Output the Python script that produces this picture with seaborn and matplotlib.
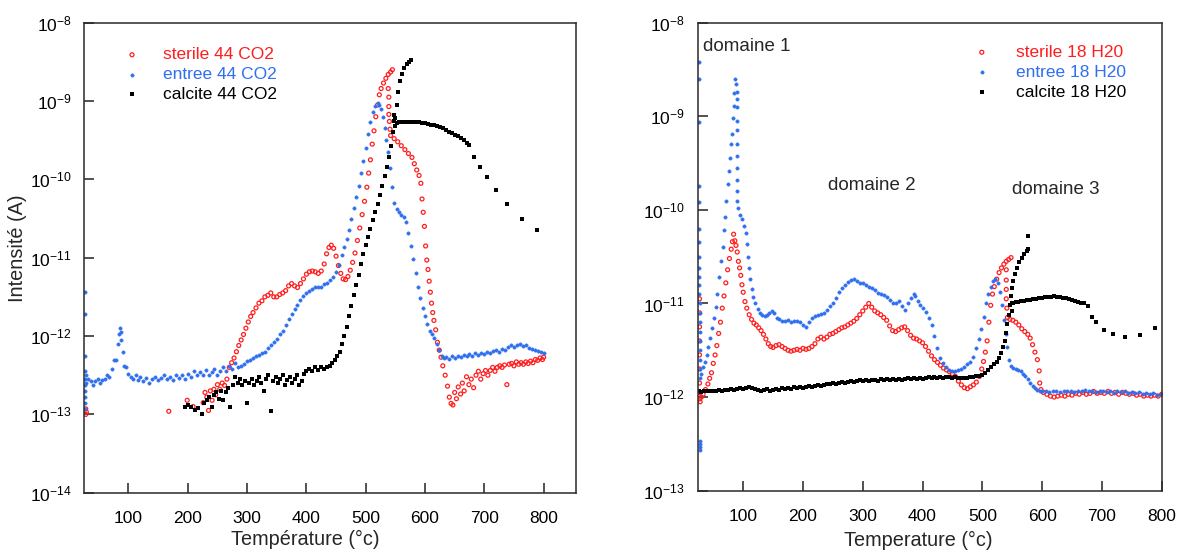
import numpy as np
import pandas as pd
import matplotlib
matplotlib.use('Agg')
import matplotlib.pyplot as plt
import seaborn as sns
from matplotlib.ticker import NullLocator, FixedLocator

sns.set_theme(style='white')
plt.rcParams['font.family'] = ['Liberation Sans', 'DejaVu Sans']
plt.rcParams['mathtext.default'] = 'regular'

RED = '#ff1e1e'
BLUE = '#2f6ff0'
BLACK = '#000000'

# data: (temperature in °C, log10 of intensity in A)
# --- left panel, m/z 44 CO2 ---
sterile_co2 = [
    (28, -12.93), (28, -13.0), (29, -12.97), (168, -12.96), (199, -12.82), (209, -12.9),
    (226, -12.85), (229, -12.72), (232, -12.78), (235, -12.95), (238, -12.7), (241, -12.82),
    (244, -12.68), (247, -12.75), (250, -12.62), (254, -12.68), (258, -12.6), (262, -12.63),
    (266, -12.55), (270, -12.4), (274, -12.34), (278, -12.28), (282, -12.2), (286, -12.12),
    (290, -12.05), (294, -11.98), (298, -11.9), (302, -11.82), (306, -11.75), (310, -11.7),
    (315, -11.64), (320, -11.58), (325, -11.55), (330, -11.5), (335, -11.48), (340, -11.45),
    (345, -11.5), (350, -11.5), (355, -11.47), (360, -11.45), (365, -11.42), (370, -11.36),
    (375, -11.33), (380, -11.36), (385, -11.38), (390, -11.33), (395, -11.27), (400, -11.21),
    (405, -11.18), (410, -11.17), (415, -11.18), (420, -11.2), (425, -11.17), (430, -11.08),
    (434, -10.95), (438, -10.87), (442, -10.84), (446, -10.88), (450, -10.98), (454, -11.1),
    (458, -11.2), (462, -11.27), (466, -11.28), (470, -11.24), (474, -11.16), (478, -11.06),
    (482, -10.94), (486, -10.78), (490, -10.62), (494, -10.45), (498, -10.28), (502, -10.1),
    (505, -9.92), (508, -9.75), (511, -9.55), (514, -9.38), (517, -9.2), (520, -9.05),
    (523, -8.92), (526, -8.84), (530, -8.77), (534, -8.71), (538, -8.66), (542, -8.63),
    (545, -8.6),
    (538, -8.84), (539, -8.95), (539, -9.07), (539, -9.17), (540, -9.26), (541, -9.36),
    (542, -9.44), (548, -9.48), (554, -9.52), (560, -9.57), (566, -9.62), (572, -9.67),
    (578, -9.72), (582, -9.8), (586, -9.88), (590, -9.95), (593, -10.05), (595, -10.25),
    (597, -10.42), (599, -10.6), (601, -10.85), (603, -11.03), (605, -11.15), (607, -11.3),
    (609, -11.44), (611, -11.58), (613, -11.7), (615, -11.8), (618, -11.92), (621, -12.08),
    (624, -12.18), (627, -12.27), (630, -12.38), (634, -12.5), (638, -12.64), (641, -12.78),
    (644, -12.86), (647, -12.88), (650, -12.72), (653, -12.8), (656, -12.65), (660, -12.74),
    (663, -12.6), (666, -12.7), (670, -12.52), (674, -12.62), (678, -12.55), (682, -12.66),
    (686, -12.5), (690, -12.45), (694, -12.55), (698, -12.48), (702, -12.44), (706, -12.5),
    (710, -12.44), (714, -12.4), (718, -12.45), (722, -12.4), (726, -12.38), (730, -12.4),
    (734, -12.37), (738, -12.62), (742, -12.36), (746, -12.35), (750, -12.38), (754, -12.33),
    (758, -12.36), (762, -12.34), (766, -12.36), (770, -12.33), (774, -12.35), (778, -12.32),
    (782, -12.34), (786, -12.3), (790, -12.31), (794, -12.28), (798, -12.3), (800, -12.27),
]

entree_co2 = [
    (27, -11.44), (27, -11.72), (27, -12.25), (27, -12.45), (27, -12.55), (27, -12.62),
    (27, -12.7), (27, -12.78), (27, -12.85), (27, -12.93), (28, -12.5), (29, -12.6),
    (32, -12.55), (36, -12.58), (40, -12.62), (44, -12.58), (48, -12.55), (52, -12.6),
    (56, -12.56), (60, -12.55), (64, -12.5), (68, -12.52), (72, -12.42), (76, -12.3),
    (79, -12.3), (82, -12.1), (84, -11.98), (86, -11.9), (87, -11.95), (88, -12.05),
    (90, -12.2), (93, -12.38), (96, -12.4), (100, -12.48), (104, -12.52), (108, -12.55),
    (112, -12.5), (116, -12.56), (120, -12.52), (125, -12.58), (130, -12.54), (135, -12.6),
    (140, -12.55), (145, -12.52), (150, -12.56), (155, -12.54), (160, -12.5), (165, -12.55),
    (170, -12.52), (175, -12.56), (180, -12.5), (185, -12.53), (190, -12.5), (195, -12.55),
    (200, -12.48), (205, -12.52), (210, -12.45), (215, -12.5), (220, -12.46), (225, -12.5),
    (230, -12.43), (235, -12.5), (240, -12.46), (245, -12.42), (250, -12.5), (255, -12.44),
    (260, -12.4), (265, -12.45), (270, -12.38), (275, -12.42), (280, -12.35), (285, -12.4),
    (290, -12.38), (295, -12.36), (300, -12.32), (305, -12.3), (310, -12.28), (315, -12.26),
    (320, -12.24), (325, -12.22), (330, -12.2), (335, -12.15), (340, -12.12), (345, -12.08),
    (350, -12.04), (355, -11.98), (360, -11.93), (365, -11.86), (370, -11.78), (375, -11.72),
    (380, -11.65), (385, -11.6), (390, -11.54), (395, -11.49), (400, -11.45), (405, -11.42),
    (410, -11.4), (415, -11.38), (420, -11.38), (425, -11.37), (430, -11.34), (435, -11.32),
    (440, -11.29), (445, -11.24), (450, -11.18), (455, -11.09), (460, -10.97), (464, -10.86),
    (468, -10.76), (472, -10.64), (476, -10.5), (480, -10.36), (484, -10.22), (488, -10.08),
    (492, -9.92), (496, -9.76), (500, -9.6), (504, -9.42), (508, -9.27), (512, -9.14),
    (516, -9.06), (520, -9.03), (523, -9.05), (526, -9.1), (529, -9.2), (532, -9.35),
    (535, -9.5), (538, -9.65), (541, -9.85), (544, -10.1), (548, -10.3), (552, -10.38),
    (556, -10.42), (560, -10.45), (564, -10.48), (568, -10.55), (572, -10.68), (576, -10.85),
    (580, -11.02), (584, -11.2), (588, -11.38), (592, -11.52), (596, -11.64), (600, -11.74),
    (604, -11.84), (608, -11.93), (612, -11.98), (616, -12.02), (620, -12.1), (624, -12.18),
    (628, -12.25), (632, -12.28), (636, -12.27), (640, -12.29), (645, -12.26), (650, -12.28),
    (655, -12.25), (660, -12.27), (665, -12.24), (670, -12.25), (675, -12.23), (680, -12.25),
    (685, -12.22), (690, -12.24), (695, -12.21), (700, -12.23), (705, -12.2), (710, -12.22),
    (715, -12.19), (720, -12.18), (725, -12.2), (730, -12.16), (735, -12.18), (740, -12.14),
    (745, -12.12), (750, -12.14), (755, -12.11), (760, -12.1), (765, -12.13), (770, -12.12),
    (775, -12.15), (780, -12.16), (785, -12.18), (790, -12.19), (795, -12.2), (800, -12.21),
]

calcite_co2 = [
    (195, -12.9), (200, -12.88), (205, -12.9), (212, -12.95), (218, -12.92), (224, -13.0),
    (228, -12.85), (232, -12.82), (236, -12.78), (240, -12.9), (244, -12.75), (248, -12.72),
    (252, -12.8), (256, -12.7), (260, -12.82), (264, -12.72), (268, -12.66), (272, -12.9),
    (276, -12.62), (280, -12.52), (284, -12.6), (288, -12.55), (292, -12.62), (296, -12.58),
    (300, -12.86), (304, -12.6), (308, -12.55), (312, -12.62), (316, -12.57), (320, -12.52),
    (324, -12.6), (328, -12.7), (332, -12.55), (336, -12.5), (340, -12.96), (344, -12.58),
    (348, -12.52), (352, -12.6), (356, -12.55), (360, -12.5), (364, -12.62), (368, -12.56),
    (372, -12.52), (376, -12.6), (380, -12.55), (384, -12.5), (388, -12.62), (392, -12.58),
    (396, -12.48), (400, -12.45), (405, -12.42), (410, -12.44), (415, -12.4), (420, -12.43),
    (425, -12.4), (430, -12.42), (435, -12.4), (440, -12.38), (444, -12.34), (448, -12.3),
    (452, -12.26), (456, -12.2), (460, -12.1), (464, -12.0), (468, -11.88), (472, -11.75),
    (476, -11.62), (480, -11.48), (484, -11.35), (488, -11.22), (492, -11.08), (496, -10.95),
    (500, -10.84), (504, -10.73), (508, -10.63), (512, -10.52), (516, -10.42), (520, -10.32),
    (524, -10.2), (528, -10.08), (532, -9.96), (536, -9.84), (540, -9.72), (543, -9.58),
    (546, -9.4), (549, -9.22), (552, -9.05), (555, -8.88), (558, -8.75), (561, -8.66),
    (565, -8.58), (569, -8.53), (573, -8.5), (577, -8.47),
    (548, -9.18), (548, -9.25), (549, -9.32), (552, -9.28), (556, -9.27), (560, -9.27),
    (565, -9.27), (570, -9.27), (575, -9.27), (580, -9.27), (585, -9.27), (590, -9.27),
    (595, -9.28), (600, -9.28), (605, -9.29), (610, -9.3), (615, -9.31), (620, -9.32),
    (625, -9.33), (630, -9.35), (635, -9.37), (640, -9.39), (645, -9.41), (650, -9.43),
    (655, -9.45), (660, -9.47), (665, -9.5), (670, -9.53), (675, -9.56), (683, -9.71),
    (692, -9.84), (704, -9.97), (719, -10.14), (739, -10.31), (763, -10.5), (789, -10.64),
]

# --- right panel, m/z 18 H2O ---
sterile_h2o = [
    (27, -10.95), (27, -11.1), (27, -11.25), (27, -11.4), (27, -11.55), (27, -11.7),
    (27, -11.85), (27, -11.95), (27, -12.02), (28, -12.05), (30, -12.0),
    (33, -11.97), (37, -11.92), (41, -11.86), (44, -11.8), (47, -11.74), (50, -11.64),
    (53, -11.55), (56, -11.45), (59, -11.32), (62, -11.2), (65, -11.05), (68, -10.92),
    (71, -10.78), (74, -10.64), (77, -10.52), (80, -10.42), (82, -10.34), (84, -10.26),
    (86, -10.33), (88, -10.38), (90, -10.45), (92, -10.55), (94, -10.62), (96, -10.7),
    (98, -10.8), (100, -10.88), (103, -10.98), (106, -11.05), (110, -11.12), (114, -11.17),
    (118, -11.21), (122, -11.23), (126, -11.26), (130, -11.29), (134, -11.33), (138, -11.38),
    (142, -11.43), (146, -11.46), (150, -11.47), (155, -11.45), (160, -11.44), (165, -11.46),
    (170, -11.48), (175, -11.5), (180, -11.51), (185, -11.5), (190, -11.49), (195, -11.5),
    (200, -11.48), (205, -11.49), (210, -11.48), (215, -11.46), (220, -11.43), (225, -11.38),
    (230, -11.36), (235, -11.38), (240, -11.36), (245, -11.33), (250, -11.32), (255, -11.3),
    (260, -11.28), (265, -11.26), (270, -11.25), (275, -11.23), (280, -11.21), (285, -11.19),
    (290, -11.16), (295, -11.12), (300, -11.08), (305, -11.04), (310, -11.0), (315, -11.04),
    (320, -11.08), (325, -11.1), (330, -11.12), (335, -11.15), (340, -11.18), (345, -11.24),
    (350, -11.29), (355, -11.3), (360, -11.28), (365, -11.26), (370, -11.25), (375, -11.29),
    (380, -11.34), (385, -11.37), (390, -11.38), (395, -11.4), (400, -11.42), (405, -11.46),
    (410, -11.51), (415, -11.56), (420, -11.6), (425, -11.63), (430, -11.66), (435, -11.69),
    (440, -11.71), (445, -11.73), (450, -11.75), (455, -11.78), (460, -11.83), (465, -11.87),
    (470, -11.9), (475, -11.91), (480, -11.89), (485, -11.87), (490, -11.84), (495, -11.78),
    (499, -11.7), (502, -11.62), (505, -11.52), (508, -11.4), (511, -11.2), (514, -11.02),
    (517, -10.9), (520, -10.82), (524, -10.74), (528, -10.67), (532, -10.62), (536, -10.58),
    (540, -10.55), (544, -10.53), (548, -10.51),
    (540, -10.64), (540, -10.75), (540, -10.85), (540, -10.95), (541, -11.05), (542, -11.15),
    (546, -11.17), (551, -11.18), (556, -11.2), (561, -11.23), (566, -11.27), (571, -11.3),
    (576, -11.33), (580, -11.37), (584, -11.44), (588, -11.52), (592, -11.6), (595, -11.72),
    (596, -11.85), (598, -11.92), (602, -11.95), (608, -11.97), (614, -11.99), (620, -12.0),
    (626, -11.99), (632, -11.98), (638, -11.99), (644, -11.97), (650, -11.98), (656, -11.96),
    (662, -11.97), (668, -11.95), (674, -11.97), (680, -11.96), (686, -11.94), (692, -11.96),
    (698, -11.95), (704, -11.96), (710, -11.94), (716, -11.96), (722, -11.95), (728, -11.97),
    (734, -11.95), (740, -11.96), (746, -11.97), (752, -11.96), (758, -11.98), (764, -11.97),
    (770, -11.99), (776, -11.98), (782, -11.99), (788, -11.98), (794, -11.99), (800, -11.97),
]

entree_h2o = [
    (26, -8.42), (26, -8.6), (26, -9.06), (26, -9.75), (26, -9.92), (26, -10.2),
    (26, -10.34), (26, -10.5), (26, -10.62), (26, -10.72), (26, -10.8), (26, -10.9),
    (27, -11.0), (27, -11.1), (27, -11.2), (27, -11.3), (27, -11.4), (27, -11.5),
    (27, -11.6), (27, -11.7), (27, -11.8), (27, -12.47), (27, -12.5), (27, -12.53), (27, -12.57),
    (30, -11.75), (33, -11.68), (36, -11.62), (39, -11.55), (42, -11.47), (45, -11.37),
    (48, -11.26), (51, -11.15), (54, -11.04), (57, -10.9), (60, -10.72), (63, -10.55),
    (66, -10.4), (68, -10.22), (70, -10.08), (72, -9.9), (74, -9.72), (76, -9.58),
    (78, -9.45), (80, -9.3), (81, -9.19), (83, -9.02), (84, -8.89), (85, -8.75),
    (87, -8.6), (88, -8.65), (89, -8.74), (89, -8.82), (90, -8.9), (89, -9.05),
    (89, -9.15), (89, -9.3), (89, -9.42), (89, -9.55), (89, -9.68), (90, -9.8),
    (90, -9.9), (92, -9.98), (94, -10.06), (98, -10.1), (101, -10.17), (104, -10.25),
    (106, -10.36), (108, -10.5), (110, -10.62), (112, -10.74), (114, -10.85), (117, -10.93),
    (120, -11.0), (124, -11.06), (128, -11.1), (132, -11.12), (136, -11.13), (140, -11.12),
    (144, -11.1), (148, -11.08), (152, -11.1), (156, -11.15), (160, -11.17), (165, -11.19),
    (170, -11.19), (175, -11.18), (180, -11.2), (185, -11.19), (190, -11.19), (195, -11.2),
    (200, -11.23), (205, -11.25), (210, -11.2), (215, -11.16), (220, -11.13), (225, -11.12),
    (230, -11.11), (235, -11.1), (240, -11.07), (245, -11.03), (250, -11.0), (255, -10.94),
    (260, -10.88), (265, -10.83), (270, -10.8), (275, -10.77), (280, -10.75), (285, -10.74),
    (290, -10.76), (295, -10.78), (300, -10.78), (305, -10.8), (310, -10.82), (315, -10.84),
    (320, -10.86), (325, -10.89), (330, -10.9), (335, -10.91), (340, -10.93), (345, -10.96),
    (350, -11.0), (355, -10.99), (360, -10.97), (365, -11.03), (370, -11.07), (375, -11.0),
    (380, -10.94), (385, -10.9), (388, -10.92), (392, -10.97), (396, -11.02), (400, -11.05),
    (405, -11.09), (410, -11.15), (415, -11.23), (420, -11.35), (425, -11.48), (430, -11.58),
    (435, -11.64), (440, -11.68), (445, -11.71), (450, -11.72), (455, -11.72), (460, -11.71),
    (465, -11.7), (470, -11.68), (475, -11.65), (480, -11.62), (485, -11.57), (490, -11.48),
    (494, -11.38), (498, -11.27), (502, -11.14), (506, -11.0), (510, -10.9), (514, -10.82),
    (518, -10.76), (522, -10.74), (526, -10.78), (530, -10.88), (533, -11.02), (536, -11.18),
    (539, -11.33), (542, -11.46), (545, -11.6), (548, -11.67), (552, -11.69), (556, -11.7),
    (560, -11.71), (564, -11.72), (568, -11.75), (572, -11.78), (576, -11.81), (580, -11.85),
    (584, -11.88), (588, -11.9), (592, -11.92), (596, -11.93), (600, -11.94), (606, -11.94),
    (612, -11.95), (618, -11.93), (624, -11.94), (630, -11.95), (636, -11.94), (642, -11.93),
    (648, -11.94), (654, -11.95), (660, -11.93), (666, -11.94), (672, -11.92), (678, -11.94),
    (684, -11.93), (690, -11.95), (696, -11.93), (702, -11.94), (708, -11.95), (714, -11.94),
    (720, -11.96), (726, -11.94), (732, -11.95), (738, -11.94), (744, -11.96), (750, -11.95),
    (756, -11.96), (762, -11.95), (768, -11.97), (774, -11.96), (780, -11.97), (786, -11.96),
    (792, -11.98), (798, -11.97),
]

calcite_h2o = [
    (26, -11.93), (30, -11.95), (35, -11.94), (40, -11.93), (45, -11.94), (50, -11.93),
    (55, -11.93), (60, -11.92), (65, -11.93), (70, -11.92), (75, -11.92), (80, -11.91),
    (85, -11.92), (90, -11.91), (95, -11.9), (100, -11.91), (105, -11.9), (110, -11.89),
    (115, -11.9), (120, -11.91), (125, -11.92), (130, -11.93), (135, -11.92), (140, -11.91),
    (145, -11.93), (150, -11.92), (155, -11.91), (160, -11.92), (165, -11.9), (170, -11.91),
    (175, -11.9), (180, -11.91), (185, -11.89), (190, -11.9), (195, -11.89), (200, -11.9),
    (205, -11.89), (210, -11.88), (215, -11.89), (220, -11.88), (225, -11.87), (230, -11.88),
    (235, -11.87), (240, -11.86), (245, -11.86), (250, -11.85), (255, -11.86), (260, -11.85),
    (265, -11.84), (270, -11.85), (275, -11.84), (280, -11.83), (285, -11.84), (290, -11.83),
    (295, -11.82), (300, -11.83), (305, -11.82), (310, -11.83), (315, -11.82), (320, -11.82),
    (325, -11.83), (330, -11.81), (335, -11.82), (340, -11.81), (345, -11.82), (350, -11.81),
    (355, -11.82), (360, -11.81), (365, -11.82), (370, -11.81), (375, -11.8), (380, -11.81),
    (385, -11.8), (390, -11.81), (395, -11.8), (400, -11.81), (405, -11.8), (410, -11.79),
    (415, -11.8), (420, -11.79), (425, -11.8), (430, -11.79), (435, -11.8), (440, -11.79),
    (445, -11.79), (450, -11.8), (455, -11.79), (460, -11.8), (465, -11.8), (470, -11.8),
    (475, -11.8), (480, -11.79), (485, -11.79), (490, -11.78), (495, -11.77), (500, -11.76),
    (505, -11.74), (510, -11.71), (515, -11.68), (520, -11.65), (524, -11.62), (528, -11.58),
    (532, -11.53), (535, -11.47), (538, -11.4), (540, -11.32), (542, -11.22), (544, -11.12),
    (546, -11.02), (548, -10.92), (550, -10.83), (552, -10.76), (555, -10.69), (558, -10.62),
    (562, -10.56), (566, -10.51), (570, -10.47), (574, -10.44), (577, -10.42), (576, -10.28),
    (549, -11.0), (549, -11.08), (552, -10.99), (556, -10.98), (560, -10.98), (565, -10.97),
    (570, -10.97), (575, -10.96), (580, -10.96), (585, -10.95), (590, -10.95), (595, -10.94),
    (600, -10.94), (605, -10.93), (610, -10.93), (615, -10.93), (620, -10.92), (625, -10.93),
    (630, -10.93), (635, -10.94), (640, -10.94), (645, -10.95), (650, -10.96), (655, -10.97),
    (660, -10.98), (665, -10.99), (670, -11.0), (676, -11.03), (683, -11.14), (690, -11.2),
    (704, -11.28), (719, -11.33), (739, -11.36), (763, -11.34), (789, -11.26),
]

left_labels = ['sterile 44 CO2', 'entree 44 CO2', 'calcite 44 CO2']
right_labels = ['sterile 18 H20', 'entree 18 H20', 'calcite 18 H20']
domaines = [('domaine 1', 33, -8.25), ('domaine 2', 242, -9.74), ('domaine 3', 550, -9.78)]


def to_frame(pairs):
    arr = np.array(pairs, dtype=float)
    return pd.DataFrame({'T': arr[:, 0], 'I': 10 ** arr[:, 1]})


def draw(ax, sterile, entree, calcite, labels):
    sns.scatterplot(data=to_frame(sterile), x='T', y='I', ax=ax, marker='o', s=8,
                    facecolors='none', edgecolor=RED, linewidth=0.9, label=labels[0])
    sns.scatterplot(data=to_frame(entree), x='T', y='I', ax=ax, marker='o', s=6,
                    color=BLUE, edgecolor=BLUE, linewidth=0.3, label=labels[1])
    sns.scatterplot(data=to_frame(calcite), x='T', y='I', ax=ax, marker='s', s=12,
                    color=BLACK, edgecolor=BLACK, linewidth=0, label=labels[2])


def style_axes(ax, ymin, xmax, ypad):
    ax.set_yscale('log')
    ax.set_ylim(ymin, 1e-8)
    ax.set_xlim(25, xmax)
    ax.set_xticks(range(100, 900, 100))
    decades = 10.0 ** np.arange(np.log10(ymin), -7.5, 1.0)
    ax.yaxis.set_major_locator(FixedLocator(decades))
    ax.yaxis.set_minor_locator(NullLocator())
    ax.tick_params(axis='both', which='major', direction='in', length=7, width=1.1,
                   color='#222222', labelsize=12.5, labelcolor='black', left=True, bottom=True)
    ax.tick_params(axis='x', pad=13)
    ax.tick_params(axis='y', pad=ypad)
    for sp in ax.spines.values():
        sp.set_color('#2a2a2a')
        sp.set_linewidth(1.1)


def style_legend(ax, x, y, textpad):
    leg = ax.legend(loc='upper left', bbox_to_anchor=(x, y), frameon=False, borderpad=0,
                    borderaxespad=0, handlelength=1.0, handletextpad=textpad,
                    labelspacing=0.27, fontsize=12.5)
    for txt, c in zip(leg.get_texts(), [RED, BLUE, BLACK]):
        txt.set_color(c)


fig = plt.figure(figsize=(11.83, 5.53), dpi=100)
ax1 = fig.add_axes([0.0710, 0.1090, 0.4156, 0.8499])
ax2 = fig.add_axes([0.5903, 0.1127, 0.3917, 0.8463])

draw(ax1, sterile_co2, entree_co2, calcite_co2, left_labels)
style_axes(ax1, 1e-14, 854, 9)
style_legend(ax1, 0.08, 0.948, 1.28)
ax1.set_xlabel('Température (°c)', fontsize=14.3)
ax1.xaxis.set_label_coords(0.451, -0.08)
ax1.set_ylabel('Intensité (A)', fontsize=14.3)
ax1.yaxis.set_label_coords(-0.115, 0.52)

draw(ax2, sterile_h2o, entree_h2o, calcite_h2o, right_labels)
style_axes(ax2, 1e-13, 800, 10)
style_legend(ax2, 0.593, 0.953, 1.45)
ax2.set_xlabel('Temperature (°c)', fontsize=14.3)
ax2.xaxis.set_label_coords(0.475, -0.085)
ax2.set_ylabel('')
for txt, tx, ty in domaines:
    ax2.text(tx, 10 ** ty, txt, ha='left', va='center', fontsize=13.5)

fig.savefig('out.png', dpi=100, facecolor='white')
